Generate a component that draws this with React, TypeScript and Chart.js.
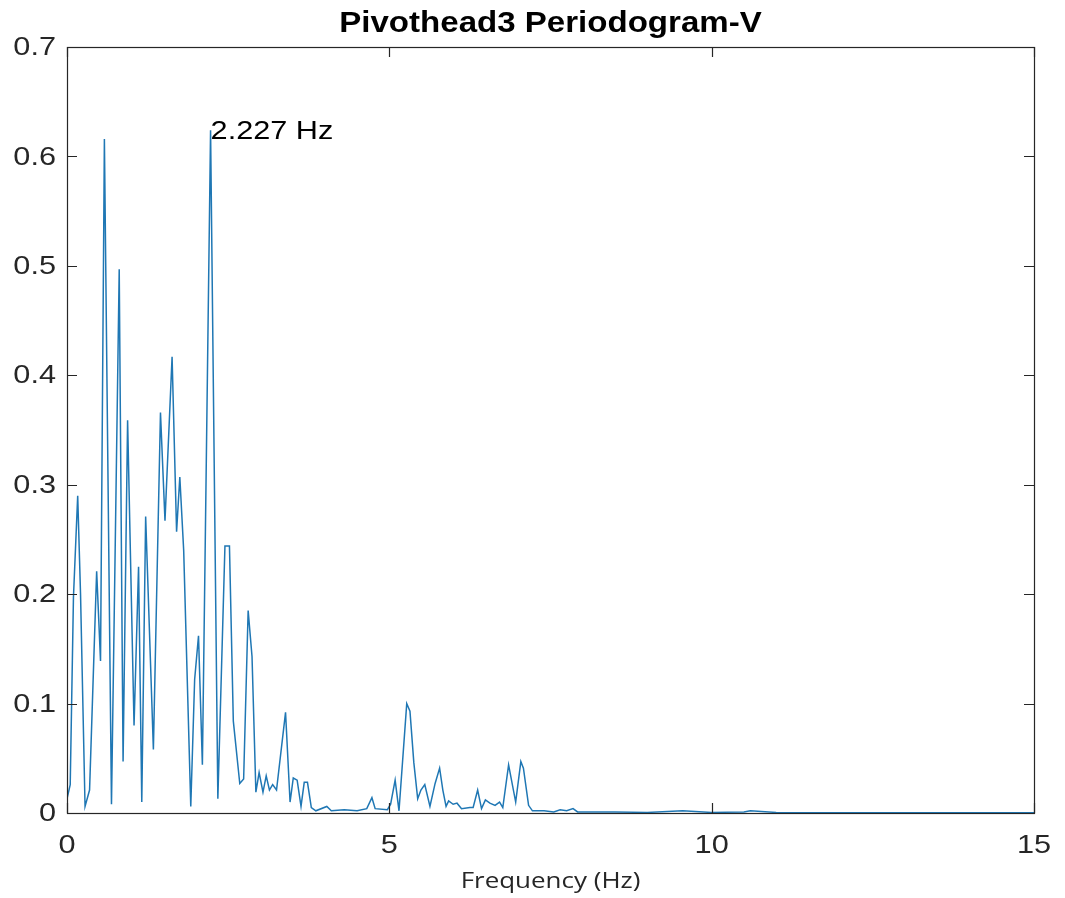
import React, { useEffect, useRef } from "react";
import { Chart, registerables } from "chart.js";

Chart.register(...registerables);

const frequencies = [
  0.0, 0.05, 0.1, 0.166, 0.21, 0.28, 0.35, 0.46, 0.52, 0.58, 0.69, 0.81, 0.87, 0.94,
  1.04, 1.11, 1.16, 1.22, 1.34, 1.45, 1.52, 1.63, 1.7, 1.75, 1.81, 1.92, 1.98, 2.04,
  2.1, 2.227, 2.34, 2.45, 2.52, 2.58, 2.68, 2.74, 2.81, 2.87, 2.93, 2.98, 3.04, 3.09,
  3.14, 3.19, 3.25, 3.39, 3.46, 3.51, 3.57, 3.63, 3.68, 3.73, 3.79, 3.86, 4.03, 4.1,
  4.3, 4.5, 4.65, 4.73, 4.78, 4.97, 5.02, 5.09, 5.15, 5.27, 5.32, 5.38, 5.44, 5.49,
  5.55, 5.63, 5.71, 5.78, 5.83, 5.88, 5.92, 5.99, 6.05, 6.12, 6.25, 6.3, 6.37, 6.43,
  6.49, 6.56, 6.64, 6.71, 6.76, 6.85, 6.96, 7.04, 7.08, 7.16, 7.22, 7.4, 7.55, 7.65,
  7.75, 7.85, 7.92, 8.5, 9.0, 9.55, 10.0, 10.5, 10.6, 11.0, 12.0, 13.0, 14.0, 15.0,
];

const power = [
  0.013, 0.026, 0.197, 0.29, 0.2, 0.006, 0.021, 0.221, 0.139, 0.616, 0.008, 0.497, 0.047, 0.359,
  0.08, 0.225, 0.01, 0.271, 0.058, 0.366, 0.267, 0.417, 0.257, 0.307, 0.24, 0.006, 0.122, 0.162,
  0.044, 0.624, 0.013, 0.244, 0.244, 0.084, 0.027, 0.031, 0.185, 0.143, 0.019, 0.037, 0.019, 0.034,
  0.021, 0.026, 0.021, 0.092, 0.01, 0.032, 0.03, 0.006, 0.028, 0.028, 0.005, 0.002, 0.006, 0.002,
  0.003, 0.002, 0.004, 0.014, 0.004, 0.003, 0.008, 0.03, 0.002, 0.1, 0.093, 0.046, 0.013, 0.021,
  0.026, 0.006, 0.027, 0.041, 0.021, 0.006, 0.011, 0.008, 0.009, 0.004, 0.005, 0.005, 0.021, 0.004,
  0.012, 0.009, 0.007, 0.01, 0.005, 0.044, 0.01, 0.047, 0.041, 0.007, 0.002, 0.002, 0.001, 0.003,
  0.002, 0.004, 0.001, 0.001, 0.0005, 0.002, 0.0005, 0.001, 0.002, 0.0005, 0.0003, 0.0003, 0.0002, 0.0002,
];

const xTickValues = [0, 5, 10, 15];
const xTickLabels = ["0", "5", "10", "15"];
const yTickValues = [0, 0.1, 0.2, 0.3, 0.4, 0.5, 0.6, 0.7];
const yTickLabels = ["0", "0.1", "0.2", "0.3", "0.4", "0.5", "0.6", "0.7"];

const peakFrequency = 2.227;
const peakPower = 0.624;
const peakLabel = "2.227 Hz";
const chartTitle = "Pivothead3 Periodogram-V";
const xAxisTitle = "Frequency (Hz)";

const AXIS_COLOR = "#262626";
const LINE_COLOR = "#1f77b4";
const SANS = "'Liberation Sans', Arial, sans-serif";
const STRETCH = 1.18;

function drawText(ctx: any, text: string, x: number, y: number, align: string, font: string, color: string, sx: number) {
  ctx.save();
  ctx.translate(x, y);
  ctx.scale(sx, 1);
  ctx.font = font;
  ctx.fillStyle = color;
  ctx.textAlign = align;
  ctx.textBaseline = "middle";
  ctx.fillText(text, 0, 0);
  ctx.restore();
}

const matlabPlugin = {
  id: "matlabDecor",
  afterDraw(chart: any) {
    const { ctx, chartArea: a, scales } = chart;
    const x = scales.x;
    const y = scales.y;
    ctx.save();
    ctx.strokeStyle = AXIS_COLOR;
    ctx.lineWidth = 1.2;
    ctx.strokeRect(Math.round(a.left) + 0.5, Math.round(a.top) + 0.5, Math.round(a.right - a.left), Math.round(a.bottom - a.top));
    const L = 10;
    ctx.beginPath();
    xTickValues.forEach((v) => {
      const px = Math.round(x.getPixelForValue(v)) + 0.5;
      ctx.moveTo(px, a.bottom);
      ctx.lineTo(px, a.bottom - L);
      ctx.moveTo(px, a.top);
      ctx.lineTo(px, a.top + L);
    });
    yTickValues.forEach((v) => {
      const py = Math.round(y.getPixelForValue(v)) + 0.5;
      ctx.moveTo(a.left, py);
      ctx.lineTo(a.left + L, py);
      ctx.moveTo(a.right, py);
      ctx.lineTo(a.right - L, py);
    });
    ctx.stroke();
    ctx.restore();

    // tick labels
    xTickValues.forEach((v, i) => {
      drawText(ctx, xTickLabels[i], x.getPixelForValue(v), a.bottom + 33, "center", `26px ${SANS}`, AXIS_COLOR, STRETCH);
    });
    yTickValues.forEach((v, i) => {
      drawText(ctx, yTickLabels[i], a.left - 11, y.getPixelForValue(v) + 1, "right", `26px ${SANS}`, AXIS_COLOR, STRETCH);
    });

    // peak annotation
    drawText(ctx, peakLabel, x.getPixelForValue(peakFrequency), y.getPixelForValue(peakPower) + 2, "left", `26px ${SANS}`, "#000000", STRETCH);

    // title
    drawText(ctx, chartTitle, (a.left + a.right) / 2, 24, "center", `bold 29px ${SANS}`, "#000000", 1.14);

    // x axis title
    drawText(ctx, xAxisTitle, (a.left + a.right) / 2, 882, "center", "22px 'Open Sans', sans-serif", AXIS_COLOR, STRETCH);
  },
};

export default function App() {
  const ref = useRef<HTMLCanvasElement | null>(null);

  useEffect(() => {
    if (!ref.current) return;
    const points = frequencies.map((f, i) => ({ x: f, y: power[i] }));
    const chart = new Chart(ref.current, {
      type: "line",
      data: {
        datasets: [
          {
            data: points,
            borderColor: LINE_COLOR,
            borderWidth: 1.5,
            pointRadius: 0,
            tension: 0,
            fill: false,
          },
        ],
      },
      options: {
        animation: false,
        responsive: false,
        events: [],
        layout: { padding: { top: 47, right: 31, left: 0, bottom: 0 } },
        plugins: {
          legend: { display: false },
          tooltip: { enabled: false },
          title: { display: false },
        },
        scales: {
          x: {
            type: "linear",
            min: 0,
            max: 15,
            border: { display: false },
            grid: { display: false, drawTicks: false },
            afterBuildTicks: (s: any) => {
              s.ticks = xTickValues.map((v) => ({ value: v }));
            },
            afterFit: (s: any) => {
              s.height = 85;
            },
            ticks: { display: false },
          },
          y: {
            type: "linear",
            min: 0,
            max: 0.7,
            border: { display: false },
            grid: { display: false, drawTicks: false },
            afterBuildTicks: (s: any) => {
              s.ticks = yTickValues.map((v) => ({ value: v }));
            },
            afterFit: (s: any) => {
              s.width = 67;
            },
            ticks: { display: false },
          },
        },
      },
      plugins: [matlabPlugin],
    });
    return () => chart.destroy();
  }, []);

  return (
    <div style={{ position: "fixed", left: 0, top: 0, width: 1065, height: 898, background: "#ffffff" }}>
      <canvas ref={ref} width={1065} height={898} style={{ display: "block" }} />
    </div>
  );
}
